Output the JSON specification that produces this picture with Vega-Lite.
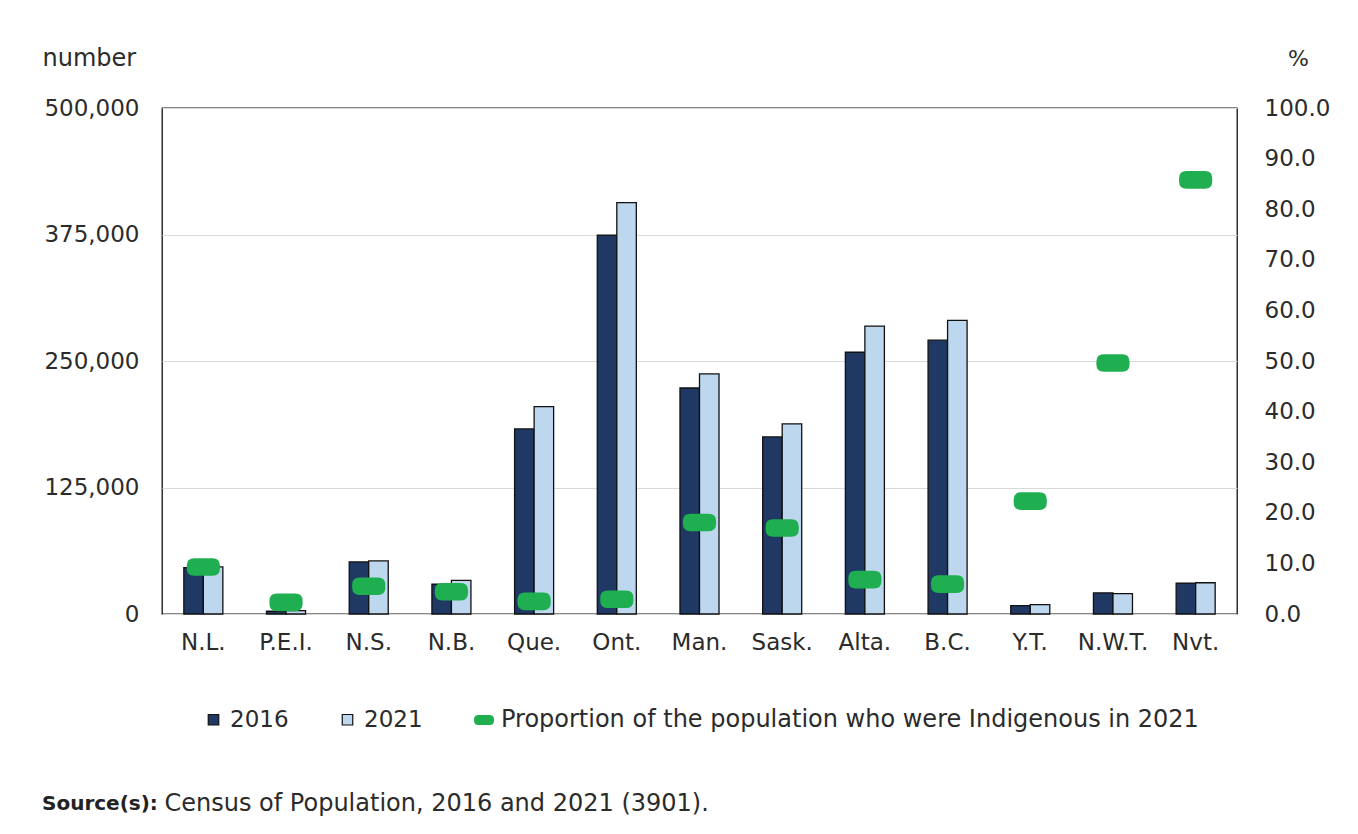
{
  "$schema": "https://vega.github.io/schema/vega-lite/v6.json",
  "width": 1075,
  "height": 506,
  "autosize": {"type": "none"},
  "padding": {"left": 162, "top": 108, "right": 121, "bottom": 220},
  "background": "white",
  "title": {
    "text": "Source(s):",
    "orient": "bottom",
    "anchor": "start",
    "frame": "group",
    "dx": -120,
    "dy": -25,
    "fontSize": 20,
    "fontWeight": "bold",
    "color": "#222222",
    "font": "DejaVu Sans"
  },
  "datasets": {
    "counts": [
      {"prov": "N.L.", "series": "2016", "count": 45725},
      {"prov": "N.L.", "series": "2021", "count": 46545},
      {"prov": "P.E.I.", "series": "2016", "count": 2740},
      {"prov": "P.E.I.", "series": "2021", "count": 3385},
      {"prov": "N.S.", "series": "2016", "count": 51495},
      {"prov": "N.S.", "series": "2021", "count": 52430},
      {"prov": "N.B.", "series": "2016", "count": 29380},
      {"prov": "N.B.", "series": "2021", "count": 33300},
      {"prov": "Que.", "series": "2016", "count": 182885},
      {"prov": "Que.", "series": "2021", "count": 205010},
      {"prov": "Ont.", "series": "2016", "count": 374395},
      {"prov": "Ont.", "series": "2021", "count": 406585},
      {"prov": "Man.", "series": "2016", "count": 223310},
      {"prov": "Man.", "series": "2021", "count": 237185},
      {"prov": "Sask.", "series": "2016", "count": 175015},
      {"prov": "Sask.", "series": "2021", "count": 187885},
      {"prov": "Alta.", "series": "2016", "count": 258640},
      {"prov": "Alta.", "series": "2021", "count": 284470},
      {"prov": "B.C.", "series": "2016", "count": 270585},
      {"prov": "B.C.", "series": "2021", "count": 290210},
      {"prov": "Y.T.", "series": "2016", "count": 8195},
      {"prov": "Y.T.", "series": "2021", "count": 9300},
      {"prov": "N.W.T.", "series": "2016", "count": 20860},
      {"prov": "N.W.T.", "series": "2021", "count": 20035},
      {"prov": "Nvt.", "series": "2016", "count": 30550},
      {"prov": "Nvt.", "series": "2021", "count": 30865}
    ],
    "shares": [
      {"prov": "N.L.", "pct": 9.3},
      {"prov": "P.E.I.", "pct": 2.3},
      {"prov": "N.S.", "pct": 5.5},
      {"prov": "N.B.", "pct": 4.4},
      {"prov": "Que.", "pct": 2.5},
      {"prov": "Ont.", "pct": 2.9},
      {"prov": "Man.", "pct": 18.1},
      {"prov": "Sask.", "pct": 17.0},
      {"prov": "Alta.", "pct": 6.8},
      {"prov": "B.C.", "pct": 5.9},
      {"prov": "Y.T.", "pct": 22.3},
      {"prov": "N.W.T.", "pct": 49.6},
      {"prov": "Nvt.", "pct": 85.8}
    ]
  },
  "layer": [
    {
      "data": {"name": "counts"},
      "mark": {"type": "bar", "stroke": "#111111", "strokeWidth": 1.3},
      "encoding": {
        "x": {
          "field": "prov",
          "type": "nominal",
          "sort": null,
          "scale": {"paddingInner": 0.528, "paddingOuter": 0.264},
          "axis": {
            "labelAngle": 0,
            "labelFontSize": 23,
            "ticks": false,
            "domain": false,
            "labelPadding": 17,
            "title": "Census of Population, 2016 and 2021 (3901).",
            "titleFontSize": 24,
            "titleX": 2,
            "titleY": 196,
            "titleAlign": "left",
            "titleAnchor": null,
            "titleBaseline": "alphabetic"
          }
        },
        "xOffset": {"field": "series", "type": "nominal", "scale": {"paddingInner": 0, "paddingOuter": 0}},
        "y": {
          "field": "count",
          "type": "quantitative",
          "scale": {"domain": [0, 500000], "nice": false},
          "axis": {
            "orient": "left",
            "values": [0, 125000, 250000, 375000, 500000],
            "format": ",.0f",
            "labelFontSize": 23,
            "grid": true,
            "gridColor": "#d9d9d9",
            "ticks": false,
            "domain": false,
            "labelPadding": 23,
            "title": "number",
            "titleFontSize": 24,
            "titleAngle": 0,
            "titleX": -120,
            "titleY": -43,
            "titleAlign": "left",
            "titleAnchor": null,
            "titleBaseline": "alphabetic"
          }
        },
        "color": {
          "field": "series",
          "type": "nominal",
          "scale": {"domain": ["2016", "2021"], "range": ["#1f3864", "#bdd7ee"]},
          "legend": {
            "orient": "none",
            "legendX": 40,
            "legendY": 600,
            "direction": "horizontal",
            "title": null,
            "padding": 0,
            "columnPadding": 47,
            "labelOffset": 5,
            "labelFontSize": 23,
            "labelColor": "#2b2b2b",
            "symbolType": "square",
            "symbolSize": 110,
            "symbolStrokeColor": "#111111",
            "symbolStrokeWidth": 1.2
          }
        }
      }
    },
    {
      "data": {"name": "shares"},
      "mark": {
        "type": "point",
        "filled": true,
        "opacity": 1,
        "size": 1100,
        "shape": "M -0.55 -0.53 L 0.55 -0.53 Q 1 -0.53 1 -0.08 L 1 0.08 Q 1 0.53 0.55 0.53 L -0.55 0.53 Q -1 0.53 -1 0.08 L -1 -0.08 Q -1 -0.53 -0.55 -0.53 Z"
      },
      "encoding": {
        "x": {"field": "prov", "type": "nominal", "sort": null},
        "y": {
          "field": "pct",
          "type": "quantitative",
          "scale": {"domain": [0, 100], "nice": false},
          "axis": {
            "orient": "right",
            "values": [0, 10, 20, 30, 40, 50, 60, 70, 80, 90, 100],
            "format": ".1f",
            "labelFontSize": 23,
            "grid": false,
            "ticks": false,
            "domain": false,
            "labelPadding": 27,
            "title": "%",
            "titleFontSize": 22,
            "titleAngle": 0,
            "titleX": 61,
            "titleY": -43,
            "titleAlign": "center",
            "titleAnchor": null,
            "titleBaseline": "alphabetic"
          }
        },
        "fill": {
          "datum": "Proportion of the population who were Indigenous in 2021",
          "scale": {"range": ["#1fae50"]},
          "legend": {
            "orient": "none",
            "legendX": 310,
            "legendY": 600,
            "direction": "horizontal",
            "title": null,
            "padding": 0,
            "labelOffset": 5,
            "labelLimit": 1200,
            "labelFontSize": 24,
            "labelColor": "#2b2b2b",
            "symbolType": "M -0.55 -0.5 L 0.55 -0.5 Q 1 -0.5 1 -0.05 L 1 0.05 Q 1 0.5 0.55 0.5 L -0.55 0.5 Q -1 0.5 -1 0.05 L -1 -0.05 Q -1 -0.5 -0.55 -0.5 Z",
            "symbolSize": 400,
            "symbolStrokeWidth": 0
          }
        }
      }
    }
  ],
  "resolve": {"scale": {"y": "independent"}},
  "config": {
    "font": "DejaVu Sans",
    "view": {"stroke": "#111111", "strokeWidth": 1.3},
    "axis": {
      "labelFont": "DejaVu Sans",
      "labelFontSize": 22,
      "labelColor": "#2b2b2b",
      "titleFont": "DejaVu Sans",
      "titleFontSize": 22,
      "titleFontWeight": "normal",
      "titleColor": "#2b2b2b"
    },
    "legend": {"labelFont": "DejaVu Sans", "labelFontSize": 22, "labelColor": "#2b2b2b"}
  }
}
